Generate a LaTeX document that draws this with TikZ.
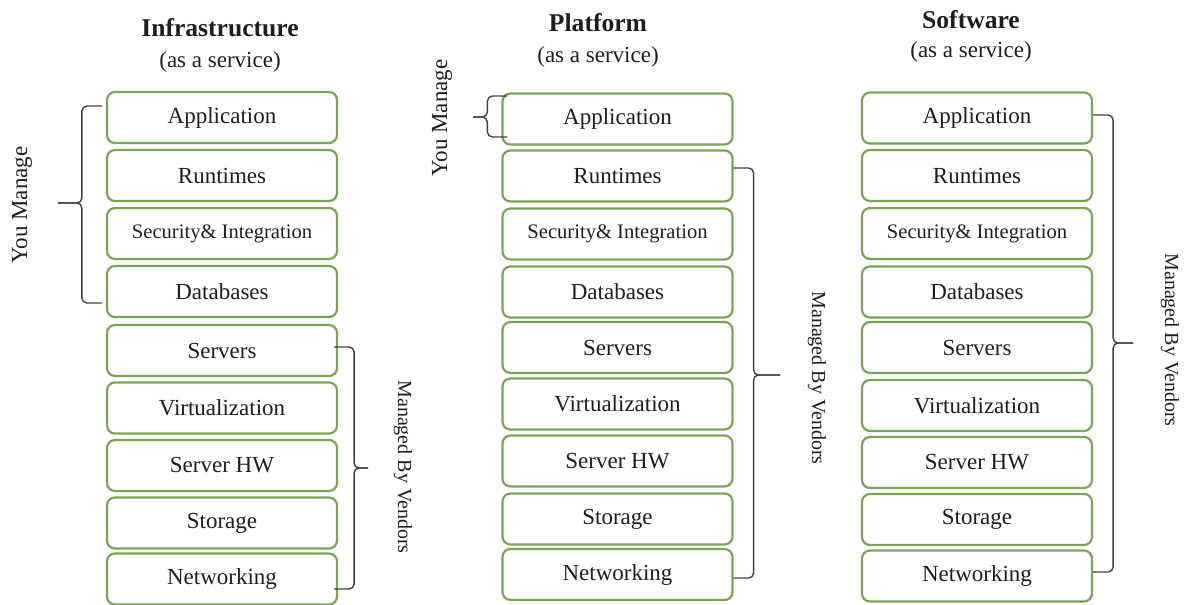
\documentclass[tikz,border=0pt]{standalone}
\usepackage{fontspec}
\setmainfont{Liberation Serif}
\usepackage{tikz}
\usetikzlibrary{positioning,calc}

\definecolor{boxgreen}{RGB}{124,164,88}
\definecolor{inkgrey}{RGB}{30,30,30}
\newcommand\secfont{\fontsize{10.3}{12}\selectfont}

\tikzset{
  layer/.style={draw=boxgreen, line width=1.1pt, rounded corners=4pt, fill=white,
    minimum width=115pt, minimum height=25.5pt, inner sep=0pt,
    text=inkgrey, font=\fontsize{11.5}{13}\selectfont},
  heading/.style={text=inkgrey, font=\fontsize{12.8}{14}\selectfont\bfseries},
  subheading/.style={text=inkgrey, font=\fontsize{11.5}{13}\selectfont},
  brk/.style={draw=black!75, line width=0.7pt, rounded corners=2.5pt},
  youlbl/.style={text=inkgrey, rotate=90, font=\fontsize{11.5}{13}\selectfont},
  vendlbl/.style={text=inkgrey, rotate=-90, font=\fontsize{10}{12}\selectfont}
}

\begin{document}
\begin{tikzpicture}[x=0.5pt,y=-0.5pt]
\useasboundingbox (0,0) rectangle (1189,605);

%Infrastructure
\node[heading] (ititle) at (220,28) {Infrastructure};
\node[subheading] (isub) at (220,62) {(as a service)};
\foreach \n/\t/\y in {app/Application/117.5, run/Runtimes/175.5,
    sec/\secfont Security\& Integration/233.5, db/Databases/291.5,
    serv/Servers/350.5, virt/Virtualization/408, hw/Server HW/465.5,
    stor/Storage/523, net/Networking/579}
  \node[layer] (i\n) at (222,\y) {\t};

\coordinate (iyoutip) at (58,203);
\draw[brk] ([shift={(-2pt,5.75pt)}]iapp.west) -- ++(-10pt,0) |- (iyoutip);
\draw[brk] ([shift={(-2pt,-5.75pt)}]idb.west) -- ++(-10pt,0) |- (iyoutip);
\node[youlbl] (iyou) at (22,205) {You Manage};

\coordinate (ivendtip) at (368,468);
\draw[brk] ([shift={(-2pt,1.75pt)}]iserv.east) -- ++(10pt,0) |- (ivendtip);
\draw[brk] ([shift={(-2pt,-5pt)}]inet.east) -- ++(10pt,0) |- (ivendtip);
\node[vendlbl] (ivend) at (403,467) {Managed By Vendors};

%Platform
\node[heading] (ptitle) at (598,23) {Platform};
\node[subheading] (psub) at (598,57) {(as a service)};
\foreach \n/\t/\y in {app/Application/119, run/Runtimes/176,
    sec/\secfont Security\& Integration/234, db/Databases/292,
    serv/Servers/347.5, virt/Virtualization/404, hw/Server HW/461,
    stor/Storage/519, net/Networking/574.5}
  \node[layer] (p\n) at (617.5,\y) {\t};

\coordinate (pyoutip) at (473,117);
\draw[brk] ([shift={(3pt,11.5pt)}]papp.west) -- ++(-10pt,0) |- (pyoutip);
\draw[brk] ([shift={(3pt,-9pt)}]papp.west) -- ++(-10pt,0) |- (pyoutip);
\node[youlbl] (pyou) at (442,118) {You Manage};

\coordinate (pvendtip) at (780,375);
\draw[brk] ([yshift=4pt]prun.east) -- ++(10pt,0) |- (pvendtip);
\draw[brk] ([yshift=-1.75pt]pnet.east) -- ++(10pt,0) |- (pvendtip);
\node[vendlbl] (pvend) at (817,378) {Managed By Vendors};

%Software
\node[heading] (stitle) at (971,20) {Software};
\node[subheading] (ssub) at (971,52) {(as a service)};
\foreach \n/\t/\y in {app/Application/118, run/Runtimes/175.5,
    sec/\secfont Security\& Integration/233.5, db/Databases/292,
    serv/Servers/347.5, virt/Virtualization/405.5, hw/Server HW/462.5,
    stor/Storage/519.5, net/Networking/576}
  \node[layer] (s\n) at (977,\y) {\t};

\coordinate (svendtip) at (1133,343);
\draw[brk] ([yshift=1.5pt]sapp.east) -- ++(10pt,0) |- (svendtip);
\draw[brk] ([yshift=2pt]snet.east) -- ++(10pt,0) |- (svendtip);
\node[vendlbl] (svend) at (1170,340) {Managed By Vendors};

\end{tikzpicture}
\end{document}
